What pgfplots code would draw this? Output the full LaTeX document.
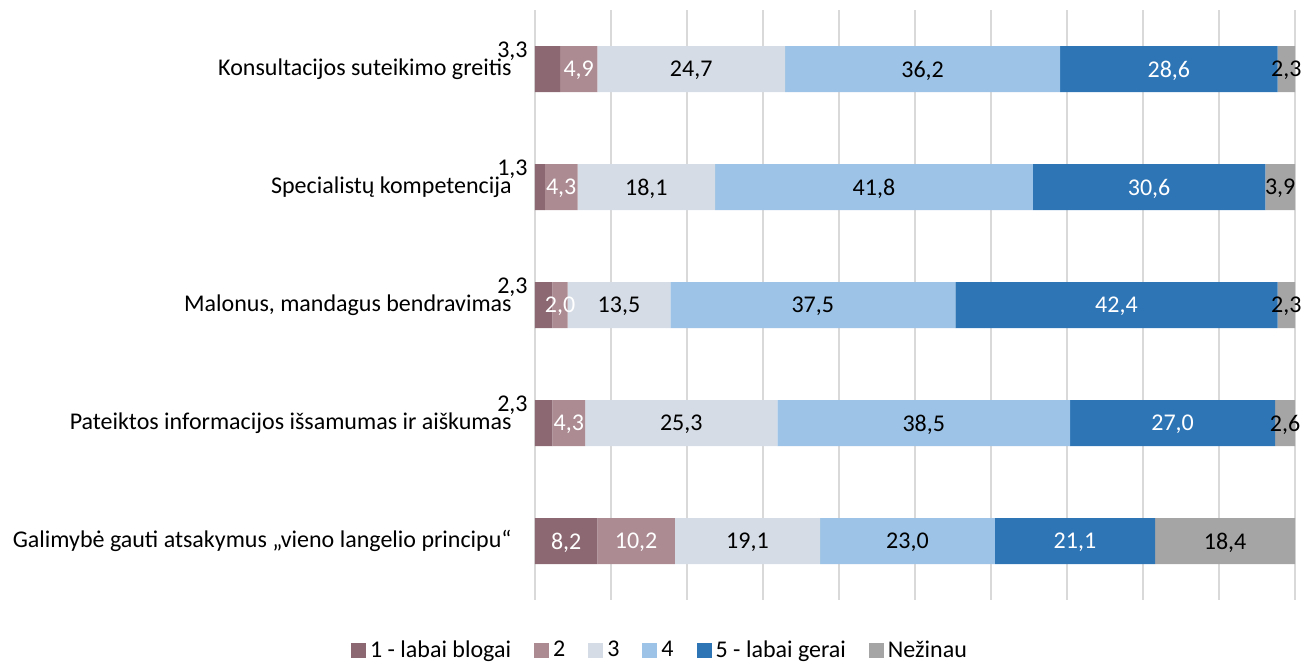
\documentclass[border=0pt]{standalone}
\usepackage{fontspec}
\setmainfont{Carlito}
\usepackage{pgfplots}
\pgfplotsset{compat=1.18}
\usepackage{pgfplotstable}

\definecolor{s1}{RGB}{140,104,114}
\definecolor{s2}{RGB}{172,139,147}
\definecolor{s3}{RGB}{214,220,229}
\definecolor{s4}{RGB}{157,195,230}
\definecolor{s5}{RGB}{46,117,182}
\definecolor{s6}{RGB}{165,165,165}
\definecolor{grid}{RGB}{217,217,217}

% one row per question, columns = answer groups (%)
\pgfplotstableread{
y a b c d e f
0 3.3 4.9 24.7 36.2 28.6 2.3
1 1.3 4.3 18.1 41.8 30.6 3.9
2 2.3 2.0 13.5 37.5 42.4 2.3
3 2.3 4.3 25.3 38.5 27.0 2.6
4 8.2 10.2 19.1 23.0 21.1 18.4
}\data

\pgfplotsset{
  base/.style={
    at={(267.5pt,32pt)}, anchor=south west,
    width=380pt, height=295pt, scale only axis,
    xmin=0, xmax=100, ymin=-0.5, ymax=4.5, y dir=reverse,
  },
  lbl/.style={
    draw=none, nodes near coords={\pgfmathprintnumber[fixed,fixed zerofill,precision=1,use comma]{\pgfplotspointmeta}},
    point meta=explicit,
    every node near coord/.append style={anchor=center, inner sep=0pt, text depth=0pt, text=#1},
  },
}

\begin{document}
\fontsize{12}{14}\selectfont
\begin{tikzpicture}
\path[use as bounding box] (0,0) rectangle (653.5pt,332pt);

\begin{axis}[base,
  xbar stacked, bar width=23pt,
  axis line style={draw=none},
  xtick={0,10,...,100}, xticklabels={},
  major tick length=0pt,
  xmajorgrids, grid style={draw=grid, line width=0.75pt},
  ytick={0,...,4},
  yticklabels={Konsultacijos suteikimo greitis, Specialistų kompetencija,
    {Malonus, mandagus bendravimas}, Pateiktos informacijos išsamumas ir aiškumas,
    Galimybė gauti atsakymus „vieno langelio principu“},
  yticklabel style={anchor=east, inner sep=0pt, xshift=-11.5pt},
  legend image code/.code={\draw[#1, draw=none] (0pt,-3.75pt) rectangle (7.5pt,3.75pt);},
  legend style={at={(axis description cs:0.1658,-0.0864)}, anchor=center,
    draw=none, legend columns=-1,
    /tikz/every odd column/.append style={column sep=0pt},
    /tikz/every even column/.append style={column sep=9.5pt}},
]
\addplot[fill=s1, draw=none] table[x=a, y=y] {\data};
\addplot[fill=s2, draw=none] table[x=b, y=y] {\data};
\addplot[fill=s3, draw=none] table[x=c, y=y] {\data};
\addplot[fill=s4, draw=none] table[x=d, y=y] {\data};
\addplot[fill=s5, draw=none] table[x=e, y=y] {\data};
\addplot[fill=s6, draw=none] table[x=f, y=y] {\data};
\legend{1 - labai blogai, 2, 3, 4, 5 - labai gerai, Nežinau}
\end{axis}

\begin{axis}[base, hide axis, /pgf/number format/assume math mode=true]
% small first-group values sit outside, above-left of the bar
\addplot[lbl=black, restrict y to domain=-0.5:3.5,
  every node near coord/.append style={anchor=east, xshift=-3.5pt, yshift=9.5pt}]
  table[x expr=0, y=y, meta=a] {\data};
\addplot[lbl=white, restrict y to domain=3.5:4.5]
  table[x expr=\thisrow{a}/2, y=y, meta=a] {\data};
\addplot[lbl=white] table[x expr=\thisrow{a}+\thisrow{b}/2, y=y, meta=b] {\data};
\addplot[lbl=black] table[x expr=\thisrow{a}+\thisrow{b}+\thisrow{c}/2, y=y, meta=c] {\data};
\addplot[lbl=black] table[x expr=\thisrow{a}+\thisrow{b}+\thisrow{c}+\thisrow{d}/2, y=y, meta=d] {\data};
\addplot[lbl=white] table[x expr=\thisrow{a}+\thisrow{b}+\thisrow{c}+\thisrow{d}+\thisrow{e}/2, y=y, meta=e] {\data};
\addplot[lbl=black] table[x expr=100-\thisrow{f}/2, y=y, meta=f] {\data};
\end{axis}
\end{tikzpicture}
\end{document}
